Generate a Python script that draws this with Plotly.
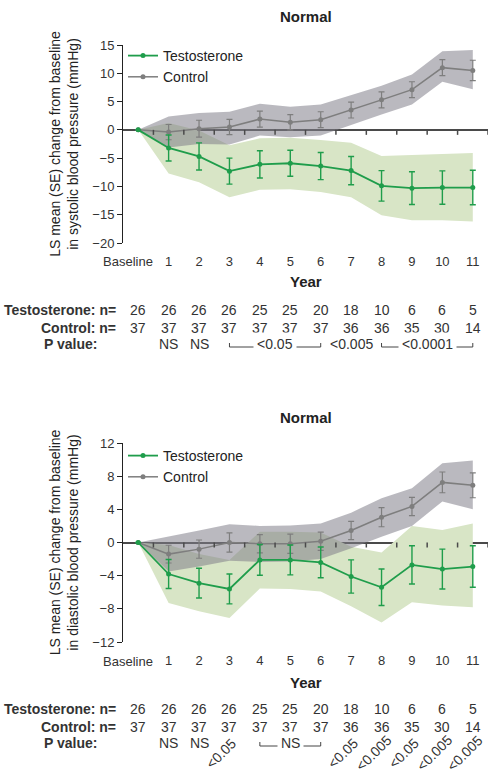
import plotly.graph_objects as go
from plotly.subplots import make_subplots

# x axis categories
years = ["Baseline", "1", "2", "3", "4", "5", "6", "7", "8", "9", "10", "11"]

# systolic BP, LS mean change from baseline
sbp_testo_mean = [0, -3.2, -4.7, -7.3, -6.1, -5.9, -6.4, -7.2, -9.9, -10.3, -10.2, -10.2]
sbp_testo_se = [0, 2.3, 2.4, 2.3, 2.4, 2.3, 2.4, 2.5, 2.7, 2.9, 2.95, 3.05]
sbp_testo_hi = [0, 1.2, -0.1, -2.7, -1.5, -1.4, -1.8, -2.3, -4.6, -4.4, -4.2, -4.1]
sbp_testo_lo = [0, -7.7, -9.25, -11.9, -10.6, -10.5, -11.0, -11.9, -15.1, -16.0, -16.0, -16.2]
sbp_ctrl_mean = [0, -0.4, 0.2, 0.5, 1.9, 1.35, 1.8, 3.5, 5.3, 7.1, 11.0, 10.5]
sbp_ctrl_se = [0, 1.35, 1.5, 1.35, 1.4, 1.35, 1.4, 1.4, 1.4, 1.4, 1.4, 1.8]
sbp_ctrl_hi = [0, 2.35, 3.0, 3.2, 4.6, 4.1, 4.5, 6.1, 7.8, 9.8, 13.9, 14.1]
sbp_ctrl_lo = [0, -3.1, -2.5, -2.6, -1.0, -1.3, -1.0, 0.9, 2.7, 4.5, 8.5, 7.2]

# diastolic BP
dbp_testo_mean = [0, -3.8, -4.9, -5.6, -2.1, -2.1, -2.4, -4.1, -5.4, -2.7, -3.2, -2.9]
dbp_testo_se = [0, 1.75, 1.8, 1.8, 1.85, 1.8, 1.85, 2.0, 2.2, 2.3, 2.4, 2.5]
dbp_testo_hi = [0, -0.3, -1.4, -2.1, 1.3, 1.3, 1.2, -0.5, -1.2, 2.0, 1.5, 2.3]
dbp_testo_lo = [0, -7.3, -8.3, -9.1, -5.55, -5.6, -5.9, -7.7, -9.65, -7.2, -7.6, -7.8]
dbp_ctrl_mean = [0, -1.4, -0.8, 0.0, -0.15, -0.15, 0.15, 1.45, 3.05, 4.35, 7.25, 6.9]
dbp_ctrl_se = [0, 1.07, 1.1, 1.15, 1.1, 1.15, 1.1, 1.1, 1.15, 1.1, 1.25, 1.5]
dbp_ctrl_hi = [0, 0.7, 1.45, 2.2, 2.0, 2.05, 2.3, 3.6, 5.35, 6.55, 9.55, 9.9]
dbp_ctrl_lo = [0, -3.5, -2.9, -2.2, -2.35, -2.3, -2.0, -0.7, 0.7, 2.0, 4.95, 4.0]

# patients per year
n_testo = [26, 26, 26, 26, 25, 25, 20, 18, 10, 6, 6, 5]
n_ctrl = [37, 37, 37, 37, 37, 37, 37, 36, 36, 35, 30, 14]

# p values: single labels (index, text) and brackets (start, end, text)
sbp_p_single = [(1, "NS"), (2, "NS"), (7, "<0.005")]
sbp_p_bracket = [(3, 6, "<0.05"), (8, 11, "<0.0001")]
dbp_p_single = [(1, "NS"), (2, "NS")]
dbp_p_rotated = [(3, "<0.05"), (7, "<0.05"), (8, "<0.005"), (9, "<0.05"), (10, "<0.005"), (11, "<0.005")]
dbp_p_bracket = [(4, 6, "NS")]

GREEN = "#1f9d4b"
GREY = "#7e7e7e"
GREEN_BAND = "#d8e5c6"
GREY_BAND = "rgba(130,128,138,0.55)"
FONT = "Liberation Sans, Arial, sans-serif"
TXT = "#333333"
W, H = 490, 784


def py(px):
    # pixel row -> paper y
    return 1 - px / H


def note(text, x, y, xref, size=14, color=TXT, xanchor="center", **kw):
    fig.add_annotation(text=text, x=x, y=y, xref=xref, yref="paper", showarrow=False,
                       xanchor=xanchor, yanchor="middle",
                       font=dict(size=size, color=color, family=FONT), **kw)


xs = list(range(len(years)))

fig = make_subplots(rows=2, cols=1)


def add_panel(row, t_mean, t_se, t_hi, t_lo, c_mean, c_se, c_hi, c_lo, legend):
    fig.add_trace(go.Scatter(x=xs + xs[::-1], y=t_hi + t_lo[::-1], fill="toself",
                             fillcolor=GREEN_BAND, line=dict(width=0), mode="lines",
                             hoverinfo="skip", showlegend=False), row=row, col=1)
    fig.add_trace(go.Scatter(x=xs + xs[::-1], y=c_hi + c_lo[::-1], fill="toself",
                             fillcolor=GREY_BAND, line=dict(width=0), mode="lines",
                             hoverinfo="skip", showlegend=False), row=row, col=1)
    fig.add_trace(go.Scatter(x=xs, y=c_mean, name="Control", mode="lines+markers",
                             line=dict(color=GREY, width=1.5), marker=dict(size=5, color=GREY),
                             error_y=dict(type="data", array=c_se, color=GREY, thickness=1.2, width=3),
                             legend=legend), row=row, col=1)
    fig.add_trace(go.Scatter(x=xs, y=t_mean, name="Testosterone", mode="lines+markers",
                             line=dict(color=GREEN, width=1.8), marker=dict(size=5, color=GREEN),
                             error_y=dict(type="data", array=t_se, color=GREEN, thickness=1.4, width=3),
                             legend=legend), row=row, col=1)


add_panel(1, sbp_testo_mean, sbp_testo_se, sbp_testo_hi, sbp_testo_lo,
          sbp_ctrl_mean, sbp_ctrl_se, sbp_ctrl_hi, sbp_ctrl_lo, "legend")
add_panel(2, dbp_testo_mean, dbp_testo_se, dbp_testo_hi, dbp_testo_lo,
          dbp_ctrl_mean, dbp_ctrl_se, dbp_ctrl_hi, dbp_ctrl_lo, "legend2")

# "Baseline" is placed by hand below (it sits a bit left of its point)
ticktext = [""] + years[1:]
xdom = [123 / W, 488 / W]
panels = [
    # (axis suffix, top px, bottom px, y range, dtick, bp word, title px, year px, tick px, table rows px)
    ("", 45, 243, [-20, 15], 5, "systolic", 17, 282, 262, (310, 328, 344)),
    ("2", 443, 642, [-12, 12], 4, "diastolic", 417, 682, 661, (709, 727, 743)),
]

for sfx, top, bot, yr, dt, word, tpx, ypx, kpx, rows in panels:
    fig.update_layout({
        "xaxis" + sfx: dict(domain=xdom, range=[-0.5, 11.5], tickvals=xs, ticktext=ticktext,
                            showgrid=False, zeroline=False, showline=False, ticks="",
                            tickangle=0, automargin=False,
                            ticklabelstandoff=9, tickfont=dict(size=13, color=TXT, family=FONT)),
        "yaxis" + sfx: dict(domain=[py(bot), py(top)], range=yr, dtick=dt, showgrid=False,
                            automargin=False,
                            showline=True, linecolor="#222", linewidth=1, ticks="outside",
                            ticklen=5, tickcolor="#222", zeroline=True, zerolinecolor="#4a4a4a",
                            zerolinewidth=2, tickfont=dict(size=13, color=TXT, family=FONT),
                            title=dict(text="LS mean (SE) change from baseline<br>in " + word
                                       + " blood pressure (mmHg)",
                                       font=dict(size=14, color="#222", family=FONT), standoff=10)),
    })
    xr = "x" + sfx
    yr_ref = "y" + sfx
    # ticks hanging from the zero line
    for i in xs:
        fig.add_shape(type="line", xref=xr, yref=yr_ref, x0=i + 0.5, x1=i + 0.5,
                      ysizemode="pixel", yanchor=0, y0=0, y1=-5,
                      line=dict(color="#4a4a4a", width=1.5))
    note(years[0], xs[0], py(kpx), xr, size=13, xshift=-10)
    note("<b>Normal</b>", 0.5, py(tpx), xr + " domain", size=15, color="#222")
    note("<b>Year</b>", 0.5, py(ypx), xr + " domain", size=15, color="#222")
    labels = ["<b>Testosterone: n=</b>", "<b>Control: n=</b>"]
    for lab, rpx in zip(labels, rows[:2]):
        note(lab, 118 / W, py(rpx), "paper", xanchor="right")
    note("<b>P value:</b>", 42 / W, py(rows[2]), "paper", xanchor="left")
    for vals, rpx in zip([n_testo, n_ctrl], rows[:2]):
        for i, v in zip(xs, vals):
            note(str(v), i, py(rpx), xr)

    if sfx == "":
        singles, brackets, rotated = sbp_p_single, sbp_p_bracket, []
    else:
        singles, brackets, rotated = dbp_p_single, dbp_p_bracket, dbp_p_rotated
    prow = rows[2]
    for i, t in singles:
        note(t, i, py(prow), xr)
    for a, b, t in brackets:
        fig.add_shape(type="line", xref=xr, yref="paper", x0=a, x1=b, y0=py(prow + 3), y1=py(prow + 3),
                      line=dict(color="#444", width=1))
        for e in (a, b):
            fig.add_shape(type="line", xref=xr, yref="paper", x0=e, x1=e, y0=py(prow + 3), y1=py(prow - 1),
                          line=dict(color="#444", width=1))
        note(t, (a + b) / 2, py(prow), xr, bgcolor="white", borderpad=3)
    for i, t in rotated:
        note(t, i, py(prow + 10), xr, xshift=-8, textangle=-45)

fig.update_layout(
    width=W, height=H, margin=dict(l=0, r=0, t=0, b=0),
    plot_bgcolor="white", paper_bgcolor="white",
    font=dict(family=FONT, color=TXT),
    legend=dict(x=123 / W, y=py(40), xanchor="left", yanchor="top", bgcolor="rgba(0,0,0,0)",
                font=dict(size=14, color="#222"), traceorder="reversed", tracegroupgap=0,
                itemwidth=30),
    legend2=dict(x=123 / W, y=py(440), xanchor="left", yanchor="top", bgcolor="rgba(0,0,0,0)",
                 font=dict(size=14, color="#222"), traceorder="reversed", tracegroupgap=0,
                 itemwidth=30),
)

# drop the default page margin so the figure sits at the window corner
fig.write_html("out.html", config={"displayModeBar": False},
               post_script="document.body.style.margin='0';")
